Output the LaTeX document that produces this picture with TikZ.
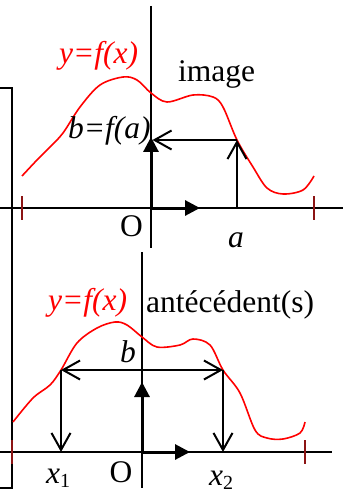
\documentclass[tikz,border=0pt]{standalone}
\usepackage{fontspec}
\setmainfont{Liberation Serif}
\usetikzlibrary{arrows.meta}
\definecolor{tickred}{RGB}{140,20,20}
\tikzset{
  axis/.style={line width=1.4pt, black},
  frameline/.style={line width=1.5pt, black},
  tickmark/.style={line width=1.8pt, tickred},
  curve/.style={line width=1.6pt, red, smooth, tension=0.55},
  unitarrow/.style={line width=3pt, -{Triangle[length=15pt,width=15pt]}},
  maparrow/.style={line width=2pt, -{Straight Barb[length=17pt,width=19pt]}},
  lbl/.style={inner sep=0pt, font=\fontsize{31.5}{34}\selectfont},
}
\begin{document}
\begin{tikzpicture}[x=1pt,y=-1pt]
\useasboundingbox (0,0) rectangle (345,494);
% frame
\draw[frameline] (-2,88) -- (12,88) -- (12,488) -- (-2,488);

% ---------- top diagram ----------
\coordinate (O1) at (151,208);
\coordinate (xl1) at (0,208);
\coordinate (xr1) at (343,208);
\coordinate (yt1) at (151,6);
\coordinate (yb1) at (151,248);
\coordinate (i1) at (151,137);
\coordinate (e1) at (200,208);
\coordinate (A) at (237,208);
\coordinate (FA) at (237,140);
\coordinate (FB) at (152.5,140);
\draw[axis] (xl1) -- (xr1);
\draw[axis] (yt1) -- (yb1);
\draw[tickmark] (22,196) -- (22,220);
\draw[tickmark] (314,196) -- (314,220);
\draw[curve] plot coordinates {(22,176) (37,160) (50,147) (63,133) (80,107) (100,85) (123,77) (137,80) (151,93) (167,102) (193,95) (213,97) (223,107) (237,140) (253,167) (267,188) (283,194) (303,190) (314,176)};
\draw[unitarrow] (O1) -- (i1);
\draw[unitarrow] (O1) -- (e1);
\draw[maparrow] (A) -- (FA);
\draw[maparrow] (FA) -- (FB);
\node[lbl, anchor=base west] (img) at (178,82) {image};
\node[lbl, anchor=base west, red] (yf1) at (59,64) {\itshape y=f(x)};
\node[lbl, anchor=base west] (bfa) at (68,139) {\itshape b=f(a)};
\node[lbl, anchor=base] (o1) at (131.5,236) {O};
\node[lbl, anchor=base] (la) at (236,247) {\itshape a};

% ---------- bottom diagram ----------
\coordinate (O2) at (142,452);
\coordinate (xl2) at (0,452);
\coordinate (xr2) at (332,452);
\coordinate (yt2) at (142,252);
\coordinate (yb2) at (142,488);
\coordinate (i2) at (142,382);
\coordinate (e2) at (190,452);
\coordinate (P1) at (61,370);
\coordinate (P2) at (223,370);
\coordinate (X1) at (61,452);
\coordinate (X2) at (223,452);
\coordinate (B) at (142,370);
\draw[axis] (xl2) -- (xr2);
\draw[axis] (yt2) -- (yb2);
\draw[tickmark] (12,440) -- (12,464);
\draw[tickmark] (305,440) -- (305,464);
\draw[curve] plot coordinates {(13,422) (33,398) (50,385) (61,370) (77,343) (97,328) (115,322) (127,325) (142,337) (157,347) (180,345) (193,339) (210,345) (223,370) (240,393) (255,430) (267,438) (283,439) (300,433) (305,422)};
\draw[unitarrow] (O2) -- (i2);
\draw[unitarrow] (O2) -- (e2);
\draw[maparrow] (B) -- (P1);
\draw[maparrow] (B) -- (P2);
\draw[maparrow] (P1) -- (X1);
\draw[maparrow] (P2) -- (X2);
\node[lbl, anchor=base west, red] (yf2) at (48,310) {\itshape y=f(x)};
\node[lbl, anchor=base west] (ant) at (146,312) {antécédent(s)};
\node[lbl, anchor=base] (lb) at (128,362) {\itshape b};
\node[lbl, anchor=base] (o2) at (121,482) {O};
\node[lbl, anchor=base west] (lx1) at (46,483) {\itshape x\raisebox{-4pt}{\upshape\fontsize{20}{21}\selectfont 1}};
\node[lbl, anchor=base west] (lx2) at (209,485) {\itshape x\raisebox{-4pt}{\upshape\fontsize{20}{21}\selectfont 2}};
\end{tikzpicture}
\end{document}
